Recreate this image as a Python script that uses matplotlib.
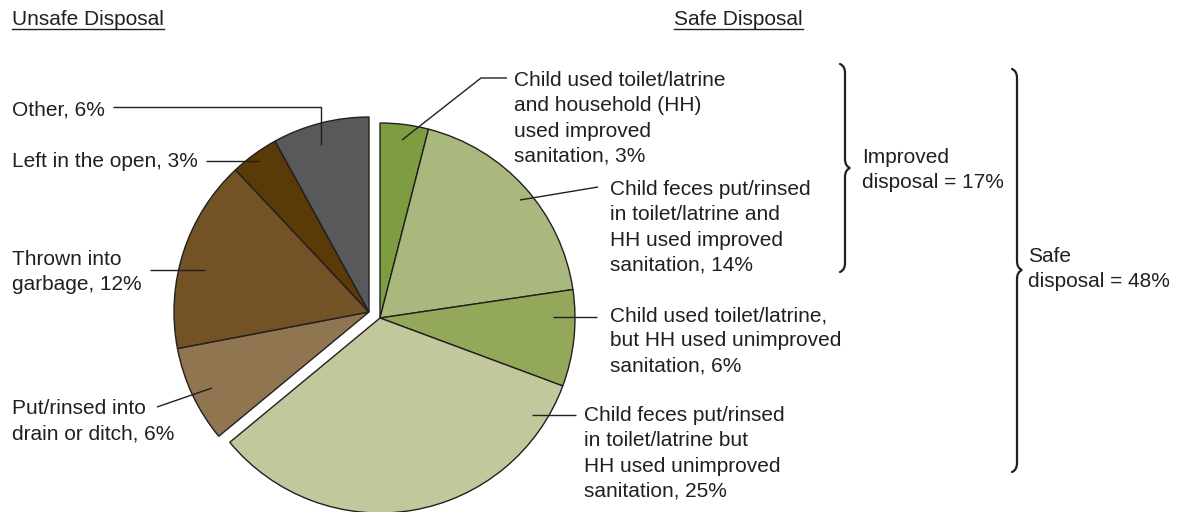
import matplotlib.pyplot as plt
from matplotlib.path import Path
from matplotlib.patches import PathPatch

plt.rcParams['font.family'] = ['Liberation Sans', 'DejaVu Sans']

W, H = 1179, 512

# shares of child feces disposal (percent)
safe_labels = [
    "Child used toilet/latrine\nand household (HH)\nused improved\nsanitation, 3%",
    "Child feces put/rinsed\nin toilet/latrine and\nHH used improved\nsanitation, 14%",
    "Child used toilet/latrine,\nbut HH used unimproved\nsanitation, 6%",
    "Child feces put/rinsed\nin toilet/latrine but\nHH used unimproved\nsanitation, 25%",
]
safe_values = [3, 14, 6, 25]
unsafe_labels = [
    "Put/rinsed into\ndrain or ditch, 6%",
    "Thrown into\ngarbage, 12%",
    "Left in the open, 3%",
    "Other, 6%",
]
unsafe_values = [6, 12, 3, 6]
improved_total = 17
safe_total = 48

safe_colors = ['#7e9d41', '#a9b87c', '#93a85a', '#c1c89c']
unsafe_colors = ['#8f7550', '#735325', '#5a3a07', '#58595b']
ink = '#231f20'
FS = 15
LS = 1.42


def P(x, y):
    # pixel coords (y down) -> data coords (y up)
    return x, H - y


fig = plt.figure(figsize=(W / 100, H / 100), dpi=100)
ax = fig.add_axes([0, 0, 1, 1])

center = P(380, 318)
wedges, _ = ax.pie(safe_values + unsafe_values,
                   colors=safe_colors + unsafe_colors,
                   startangle=90, counterclock=False,
                   radius=195, center=center,
                   wedgeprops=dict(edgecolor=ink, linewidth=1.0))
# pull the unsafe group away from the safe group
for w in wedges[len(safe_values):]:
    w.set_center((center[0] - 11, center[1] + 6))

ax.set_xlim(0, W)
ax.set_ylim(0, H)
ax.set_aspect('equal')
ax.axis('off')


def leader(*pts):
    xs, ys = zip(*[P(x, y) for x, y in pts])
    ax.plot(xs, ys, color=ink, lw=1.0, solid_capstyle='butt')


def label(x, y, s):
    ax.text(*P(x, y), s, fontsize=FS, color=ink, va='top', ha='left',
            linespacing=LS)


# safe side
leader((402, 140), (481, 78), (507, 78))
label(514, 71, safe_labels[0])
leader((520, 200), (598, 187))
label(610, 180, safe_labels[1])
leader((553, 317), (597, 317))
label(610, 306, safe_labels[2])
leader((532, 415), (576, 415))
label(584, 406, safe_labels[3])

# unsafe side
leader((157, 407), (212, 388))
label(12, 399, unsafe_labels[0])
leader((150, 270), (205, 270))
label(12, 250, unsafe_labels[1])
leader((206, 161), (259, 161))
label(12, 152, unsafe_labels[2])
leader((113, 107), (321, 107), (321, 145))
label(12, 100, unsafe_labels[3])


def brace(x, y0, y1, ym, w=5, r=9):
    pts = [P(x - w, y0), P(x, y0 + 2), P(x, y0 + r),
           P(x, ym - r), P(x, ym - 2), P(x + w, ym),
           P(x, ym + 2), P(x, ym + r),
           P(x, y1 - r), P(x, y1 - 2), P(x - w, y1)]
    codes = [Path.MOVETO, Path.CURVE3, Path.CURVE3,
             Path.LINETO, Path.CURVE3, Path.CURVE3,
             Path.CURVE3, Path.CURVE3,
             Path.LINETO, Path.CURVE3, Path.CURVE3]
    ax.add_patch(PathPatch(Path(pts, codes), fill=False, edgecolor=ink,
                           lw=1.6, capstyle='round'))


brace(845, 64, 272, 168)
label(862, 148, f"Improved\ndisposal = {improved_total}%")
brace(1017, 69, 472, 270)
label(1028, 247, f"Safe\ndisposal = {safe_total}%")

# underlined group headings
heads = [ax.text(*P(12, 25), "Unsafe Disposal", fontsize=FS, color=ink,
                 va='baseline'),
         ax.text(*P(674, 25), "Safe Disposal", fontsize=FS, color=ink,
                 va='baseline')]
fig.canvas.draw()
inv = ax.transData.inverted()
for t in heads:
    bb = t.get_window_extent()
    (x0, _), (x1, _) = inv.transform([(bb.x0, 0), (bb.x1, 0)])
    ax.plot([x0, x1], [H - 28.5] * 2, color=ink, lw=1.0)

fig.savefig('out.png', dpi=100)
